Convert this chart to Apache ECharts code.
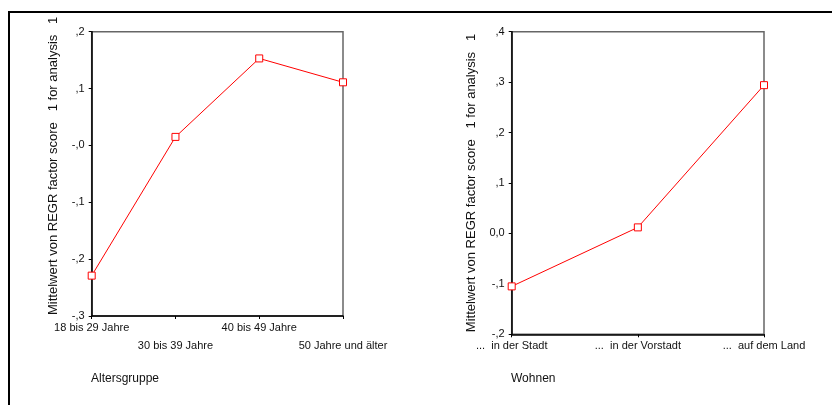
<!DOCTYPE html>
<html><head><meta charset="utf-8">
<script src="https://cdn.jsdelivr.net/npm/echarts@6/dist/echarts.min.js"></script>
<style>html,body{margin:0;padding:0;background:#fff}#c{width:832px;height:405px}</style>
</head><body><div id="c"></div>
<script>
const ageCategories = ['18 bis 29 Jahre','30 bis 39 Jahre','40 bis 49 Jahre','50 Jahre und älter'];
const ageValues = [-0.229, 0.015, 0.153, 0.111];
const ageTickLabels = ['-,3','-,2','-,1','-,0',',1',',2'];
const wohnCategories = ['...  in der Stadt','...  in der Vorstadt','...  auf dem Land'];
const wohnValues = [-0.105, 0.012, 0.294];
const wohnTickLabels = ['-,2','-,1','0,0',',1',',2',',3',',4'];
const yTitle = 'Mittelwert von REGR factor score   1 for analysis   1';

const FONT = 'Liberation Sans, Arial, sans-serif';
const chart = echarts.init(document.getElementById('c'));

function yAxis(gi, min, max, labels, gap, pad) {
  return {
    type: 'value', gridIndex: gi, min: min, max: max, interval: 0.1,
    splitLine: {show: false},
    axisLine: {show: true, onZero: false, lineStyle: {color: '#000', width: 1.5}},
    axisTick: {show: true, length: 3, lineStyle: {color: '#000'}},
    axisLabel: {fontFamily: FONT, fontSize: 11, color: '#111', margin: 7,
      formatter: v => labels[Math.round((v - min) / 0.1)]},
    name: yTitle, nameLocation: 'middle', nameRotate: 90, nameGap: gap,
    nameTextStyle: {fontFamily: FONT, fontSize: 13, color: '#111', padding: pad}
  };
}
function xAxis(gi, cats) {
  return {
    type: 'category', gridIndex: gi, data: cats, boundaryGap: false,
    axisLine: {show: true, onZero: false, lineStyle: {color: '#000', width: 1.5}},
    axisTick: {show: true, length: 3, alignWithLabel: true, lineStyle: {color: '#000'}},
    axisLabel: {fontFamily: FONT, fontSize: 11, color: '#111', margin: 3, lineHeight: 18, interval: 0,
      formatter: (v, i) => (gi === 0 && i % 2 === 1) ? '\n' + v : v},
    splitLine: {show: false}
  };
}

chart.setOption({
  animation: false,
  backgroundColor: '#fff',
  grid: [
    {left: 91.7, top: 31.7, width: 251.3, height: 284.3, show: true, borderColor: '#666', borderWidth: 1.5},
    {left: 511.7, top: 31.7, width: 252.3, height: 302.6, show: true, borderColor: '#666', borderWidth: 1.5}
  ],
  xAxis: [xAxis(0, ageCategories), xAxis(1, wohnCategories)],
  yAxis: [yAxis(0, -0.3, 0.2, ageTickLabels, 32, [0,0,0,16]), yAxis(1, -0.2, 0.4, wohnTickLabels, 34, [0,0,0,0])],
  series: [
    {type: 'line', xAxisIndex: 0, yAxisIndex: 0, data: ageValues, symbol: 'rect', symbolSize: 7,
      lineStyle: {color: '#ff0000', width: 1}, itemStyle: {color: '#fff', borderColor: '#ff0000', borderWidth: 1}},
    {type: 'line', xAxisIndex: 1, yAxisIndex: 1, data: wohnValues, symbol: 'rect', symbolSize: 7,
      lineStyle: {color: '#ff0000', width: 1}, itemStyle: {color: '#fff', borderColor: '#ff0000', borderWidth: 1}}
  ],
  graphic: [
    {type: 'line', shape: {x1: 8, y1: 12, x2: 832, y2: 12}, style: {stroke: '#000', lineWidth: 2}},
    {type: 'line', shape: {x1: 9, y1: 11, x2: 9, y2: 405}, style: {stroke: '#000', lineWidth: 2}},
    {type: 'text', left: 91, top: 373, style: {text: 'Altersgruppe', font: '12px ' + FONT, fill: '#111'}},
    {type: 'text', left: 511, top: 373, style: {text: 'Wohnen', font: '12px ' + FONT, fill: '#111'}}
  ]
});
</script></body></html>
